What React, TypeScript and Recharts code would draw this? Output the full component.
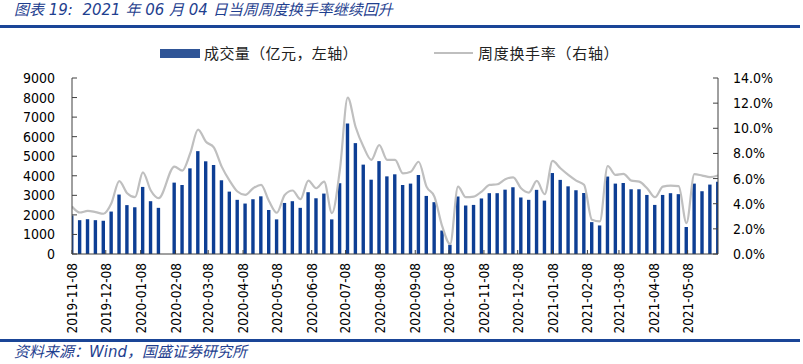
import { ComposedChart, Bar, Line, XAxis, YAxis } from 'recharts';

// weekly dates (Fridays), 2020-01-31 week closed for holiday
const weeks = [
  '2019-11-08', '2019-11-15', '2019-11-22', '2019-11-29', '2019-12-06', '2019-12-13', '2019-12-20', '2019-12-27',
  '2020-01-03', '2020-01-10', '2020-01-17', '2020-01-24', '2020-02-07', '2020-02-14', '2020-02-21', '2020-02-28',
  '2020-03-06', '2020-03-13', '2020-03-20', '2020-03-27', '2020-04-03', '2020-04-10', '2020-04-17', '2020-04-24',
  '2020-05-01', '2020-05-08', '2020-05-15', '2020-05-22', '2020-05-29', '2020-06-05', '2020-06-12', '2020-06-19',
  '2020-06-26', '2020-07-03', '2020-07-10', '2020-07-17', '2020-07-24', '2020-07-31', '2020-08-07', '2020-08-14',
  '2020-08-21', '2020-08-28', '2020-09-04', '2020-09-11', '2020-09-18', '2020-09-25', '2020-10-02', '2020-10-09',
  '2020-10-16', '2020-10-23', '2020-10-30', '2020-11-06', '2020-11-13', '2020-11-20', '2020-11-27', '2020-12-04',
  '2020-12-11', '2020-12-18', '2020-12-25', '2021-01-01', '2021-01-08', '2021-01-15', '2021-01-22', '2021-01-29',
  '2021-02-05', '2021-02-12', '2021-02-19', '2021-02-26', '2021-03-05', '2021-03-12', '2021-03-19', '2021-03-26',
  '2021-04-02', '2021-04-09', '2021-04-16', '2021-04-23', '2021-04-30', '2021-05-07', '2021-05-14', '2021-05-21',
  '2021-05-28', '2021-06-04',
];

// 成交量（亿元）
const volume = [
  1970, 1730, 1780, 1730, 1700, 2170, 3040, 2500,
  2390, 3430, 2700, 2360, 3650, 3530, 4380, 5260,
  4740, 4550, 3770, 3190, 2770, 2580, 2800, 2950,
  2250, 1770, 2610, 2700, 2360, 3160, 2850, 3090,
  1770, 3620, 6670, 5670, 4570, 3800, 4750, 3970,
  4075, 3530, 3600, 4040, 2970, 2650, 1200, 475,
  2940, 2480, 2510, 2840, 3110, 3110, 3290, 3410,
  2890, 2770, 3280, 2730, 4140, 3790, 3460, 3260,
  3120, 1630, 1460, 3960, 3600, 3630, 3310, 3310,
  3020, 2510, 3020, 3110, 3060, 1380, 3600, 3210,
  3550, 3700,
];

// 周度换手率（%）
const turnover = [
  3.78, 3.3, 3.43, 3.33, 3.2, 4.04, 5.79, 4.83,
  4.52, 6.5, 5.05, 4.44, 6.95, 6.63, 8.0, 9.9,
  8.93, 8.48, 6.95, 5.84, 4.97, 4.7, 5.23, 5.5,
  4.22, 3.28, 4.7, 5.05, 4.36, 5.84, 5.23, 5.76,
  3.25, 6.68, 12.44, 10.1, 8.53, 7.48, 8.67, 7.48,
  7.48, 6.42, 6.55, 7.34, 5.36, 4.57, 2.19, 0.79,
  5.36, 4.52, 4.57, 4.97, 5.5, 5.55, 5.95, 6.1,
  5.23, 4.89, 5.81, 4.76, 7.4, 6.82, 6.29, 5.84,
  5.5, 2.72, 2.59, 7.0, 6.29, 6.37, 5.84, 5.76,
  5.23, 4.52, 5.36, 5.44, 5.4, 2.46, 6.35, 6.24,
  6.12, 6.25,
];

const monthTicks = [
  '2019-11-08', '2019-12-08', '2020-01-08', '2020-02-08', '2020-03-08', '2020-04-08', '2020-05-08',
  '2020-06-08', '2020-07-08', '2020-08-08', '2020-09-08', '2020-10-08', '2020-11-08', '2020-12-08',
  '2021-01-08', '2021-02-08', '2021-03-08', '2021-04-08', '2021-05-08',
];

const leftTicks = [0, 1000, 2000, 3000, 4000, 5000, 6000, 7000, 8000, 9000];
const rightTicks = [0, 2, 4, 6, 8, 10, 12, 14];

const toDay = (s: string) => {
  const [y, m, d] = s.split('-').map(Number);
  return Date.UTC(y, m - 1, d) / 86400000;
};
const day0 = toDay(weeks[0]);
const dayEnd = toDay(weeks[weeks.length - 1]);

const data = weeks.map((w, i) => ({
  day: toDay(w) - day0,
  volume: volume[i],
  turnover: turnover[i],
}));

const tickDays = monthTicks.map((t) => toDay(t) - day0);
const labelByDay: Record<number, string> = {};
monthTicks.forEach((t, i) => (labelByDay[tickDays[i]] = t));

const axisFont = '"DejaVu Sans Condensed", "Liberation Sans", sans-serif';
const cjkFont = '"DejaVu Sans", "Noto Sans CJK SC", sans-serif';
const blue = '#1F3F8F';

function XTick(props: any) {
  const { x, y, payload } = props;
  return (
    <text
      x={x}
      y={y}
      transform={`rotate(-90 ${x} ${y})`}
      textAnchor="end"
      dominantBaseline="central"
      fontFamily={axisFont}
      fontSize={13.5}
      fill="#000"
    >
      {labelByDay[payload.value]}
    </text>
  );
}

export default function App() {
  return (
    <div style={{ position: 'absolute', left: 0, top: 0, width: 803, height: 364, background: '#fff' }}>
      <div
        style={{
          position: 'absolute', left: 14, top: 0, fontSize: 15, fontStyle: 'italic',
          color: blue, fontFamily: cjkFont, whiteSpace: 'nowrap', lineHeight: '20px',
        }}
      >
        图表 19:&nbsp; 2021 年 06 月 04 日当周周度换手率继续回升
      </div>
      <div style={{ position: 'absolute', left: 0, top: 25, width: 800, height: 3, background: '#1A4597' }} />

      {/* legend */}
      <div style={{ position: 'absolute', left: 160, top: 49, width: 40, height: 9, background: '#2F5597' }} />
      <div
        style={{
          position: 'absolute', left: 204, top: 42, fontSize: 15, lineHeight: '22px', letterSpacing: 0.4,
          fontFamily: '"Noto Sans CJK SC", sans-serif', color: '#222', whiteSpace: 'nowrap',
        }}
      >
        成交量（亿元，左轴）
      </div>
      <div style={{ position: 'absolute', left: 434, top: 52, width: 39, height: 2, background: '#BFBFBF' }} />
      <div
        style={{
          position: 'absolute', left: 478, top: 42, fontSize: 15, lineHeight: '22px', letterSpacing: 0.7,
          fontFamily: '"Noto Sans CJK SC", sans-serif', color: '#222', whiteSpace: 'nowrap',
        }}
      >
        周度换手率（右轴）
      </div>

      <div style={{ position: 'absolute', left: 0, top: 0 }}>
        <ComposedChart width={803} height={364} data={data} margin={{ top: 78, right: 0, bottom: 0, left: 0 }}>
          <XAxis
            dataKey="day"
            type="number"
            domain={[0, dayEnd - day0]}
            ticks={tickDays}
            allowDataOverflow
            height={110}
            interval={0}
            tickSize={-4}
            tickMargin={13}
            stroke="#404040"
            tick={(p: any) => <XTick {...p} />}
          />
          <YAxis
            yAxisId="left"
            orientation="left"
            width={72}
            domain={[0, 9000]}
            ticks={leftTicks}
            interval={0}
            tickSize={-5}
            tickMargin={22}
            stroke="#404040"
            tick={{ fill: '#000', fontSize: 14, fontFamily: axisFont }}
          />
          <YAxis
            yAxisId="right"
            orientation="right"
            width={85}
            domain={[0, 14]}
            ticks={rightTicks}
            interval={0}
            tickSize={-5}
            tickMargin={20}
            stroke="#404040"
            tickFormatter={(v: number) => `${v.toFixed(1)}%`}
            tick={{ fill: '#000', fontSize: 14, fontFamily: axisFont, textAnchor: 'start' }}
          />
          <Bar yAxisId="left" dataKey="volume" fill="#0D3E94" barSize={3.4} isAnimationActive={false} />
          <Line
            yAxisId="right"
            dataKey="turnover"
            type="monotone"
            stroke="#BFBFBF"
            strokeWidth={2.2}
            dot={false}
            activeDot={false}
            isAnimationActive={false}
          />
        </ComposedChart>
      </div>

      <div style={{ position: 'absolute', left: 0, top: 339, width: 800, height: 2.5, background: '#1A4597' }} />
      <div
        style={{
          position: 'absolute', left: 14, top: 342, fontSize: 15, fontStyle: 'italic',
          color: blue, fontFamily: cjkFont, whiteSpace: 'nowrap', lineHeight: '20px',
        }}
      >
        资料来源：Wind，国盛证券研究所
      </div>
    </div>
  );
}
